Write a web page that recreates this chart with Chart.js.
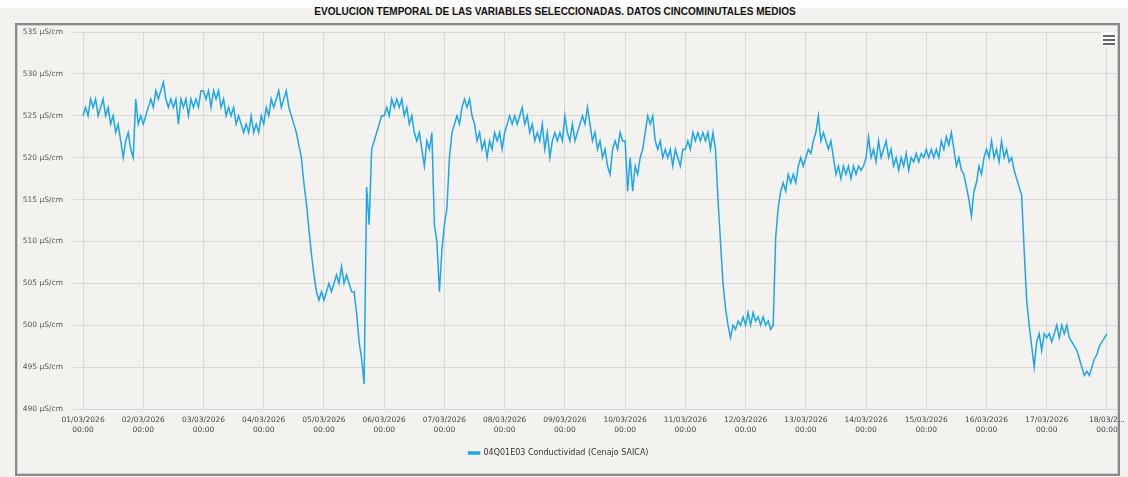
<!DOCTYPE html>
<html lang="es">
<head>
  <meta charset="UTF-8" />
  <title>Evolucion temporal - Conductividad</title>
  <script src="https://cdn.jsdelivr.net/npm/chart.js"></script>
  <style>
    html, body { margin: 0; padding: 0; }
    body { width: 1128px; height: 477px; background: #f3f2ef; position: relative; overflow: hidden; }
    #topStrip { position: absolute; left: 0; top: 0; width: 1128px; height: 8px; background: #fff; }
    #title { position: absolute; left: 0; top: 6px; width: 1110px; text-align: center;
             font: bold 10px 'Liberation Sans', Arial, sans-serif; color: #111; }
    #frame { position: absolute; left: 15px; top: 23px; width: 1105px; height: 453px;
             box-sizing: border-box; border: 2px solid #8a8a8a; box-shadow: inset 0 0 0 1px #cfcfcf; }
    #wrap { position: absolute; left: 0; top: 0; width: 1128px; height: 477px; }
    #menu { position: absolute; left: 1101px; top: 32px; width: 16px; height: 14px; background: #f8f8f8; }
    #menu span { position: absolute; left: 2px; width: 12px; height: 2px; background: #666; }
  </style>
</head>
<body>
  <div id="topStrip"></div>
  <div id="title">EVOLUCION TEMPORAL DE LAS VARIABLES SELECCIONADAS. DATOS CINCOMINUTALES MEDIOS</div>
  <div id="frame"></div>
  <div id="wrap"><canvas id="chart" width="1128" height="477"></canvas></div>
  <div id="menu"><span style="top:3px"></span><span style="top:7px"></span><span style="top:11px"></span></div>

  <script>
    // x ticks: one per day at 00:00
    const dayLabels = ['01/03/2026', '02/03/2026', '03/03/2026', '04/03/2026', '05/03/2026', '06/03/2026',
      '07/03/2026', '08/03/2026', '09/03/2026', '10/03/2026', '11/03/2026', '12/03/2026', '13/03/2026',
      '14/03/2026', '15/03/2026', '16/03/2026', '17/03/2026', '18/03/2...'];
    const tickTime = '00:00';
    const seriesName = '04Q01E03 Conductividad (Cenajo SAICA)';
    const yMin = 490, yMax = 535, yStep = 5;
    const unit = 'µS/cm';

    // hourly values (µS/cm), one line per day
    const conductividad = [
      525, 526, 525, 527, 526, 527, 525, 526, 527, 525, 526, 524, 525, 523, 524, 522, 520, 522, 523, 521, 520, 527, 524, 525,
      524, 525, 526, 527, 526, 528, 527, 528, 529, 527, 526, 527, 526, 527, 524, 527, 526, 527, 525, 527, 526, 527, 526, 528,
      528, 527, 528, 526, 528, 527, 528, 526, 527, 525, 526, 525, 526, 524, 525, 524, 523, 524, 523, 525, 523, 524, 523, 525,
      524, 526, 525, 527, 526, 527, 528, 526, 527, 528, 526, 525, 524, 523, 521.5, 520, 517, 514.5, 511.5, 508.5, 506, 504, 503, 504,
      503, 504, 505, 504, 505, 506, 505, 507, 505, 506, 505, 504, 504, 501.5, 498, 496, 493, 516.5, 512, 521, 522, 523, 524, 525,
      525, 526, 525, 527, 526, 527, 526, 527, 525, 526, 524, 525, 523, 522, 523, 521, 519, 522, 521, 523, 512, 510, 504, 509,
      512, 514, 520, 523, 524, 525, 524, 526, 527, 526, 527, 525, 524, 522, 523, 521, 522, 520, 522, 521, 523, 522, 523, 521,
      523, 524, 525, 524, 525, 524, 525, 526, 524, 525, 523, 524, 522, 523, 522, 524, 521, 523, 520, 522, 523, 522, 523, 522,
      525, 523, 522, 524, 522, 523, 524, 525, 524, 526, 524, 522, 523, 521, 522, 520, 521, 519, 518, 521, 522, 521, 523, 522,
      522, 516, 520, 516, 519, 518, 520, 521, 523, 525, 524, 525, 522, 521, 522, 520, 521, 520, 521, 519, 521, 520, 519, 521,
      521, 522, 521, 523, 522, 523, 522, 523, 522, 523, 521, 523, 521, 515, 510, 505, 502, 500, 498.5, 500, 499.5, 500.5, 500, 501,
      500, 501.5, 500, 501.5, 500.5, 501, 500, 501, 500, 500.5, 499.5, 500, 510.5, 514, 516, 517, 516, 518, 517, 518, 517, 519, 520, 519,
      520, 521, 520.5, 522, 523, 525, 522, 523, 522, 521, 522, 520, 518, 519, 517.5, 519, 518, 519, 517.5, 519, 518, 519, 518.5, 519,
      520, 522.5, 520, 521, 519.5, 522, 520, 521, 522, 520, 521, 519, 520, 518.5, 520, 519, 520.5, 518.5, 520, 519.5, 520.5, 519.5, 520.5, 520,
      521, 520, 521, 520, 521, 520, 522, 521, 522.5, 521.5, 523, 521, 519, 520, 518.5, 518, 516.5, 515, 513, 516, 517, 519, 518, 520,
      521, 520, 522, 520, 521, 519.5, 522, 520, 521, 519.5, 520, 518.5, 517.5, 516.5, 515.5, 509, 503, 500, 497.5, 495, 498, 499, 497, 499,
      498.5, 499, 498, 499, 500, 498.5, 500, 499, 500, 498.5, 498, 497.5, 497, 496, 495, 494, 494.5, 494, 495, 496, 496.5, 497.5, 498, 498.5,
      499
    ];

    const points = conductividad.map((v, i) => ({ x: i, y: v }));

    const ctx = document.getElementById('chart').getContext('2d');
    const chart = new Chart(ctx, {
      type: 'line',
      data: {
        datasets: [{
          label: seriesName,
          data: points,
          borderColor: '#1ea6e8',
          backgroundColor: '#1ea6e8',
          borderWidth: 1.5,
          pointRadius: 0,
          tension: 0
        }]
      },
      options: {
        responsive: false,
        animation: false,
        layout: { padding: { top: 32, right: 11, bottom: 10, left: 0 } },
        plugins: {
          tooltip: { enabled: false },
          title: { display: false },
          legend: {
            position: 'bottom',
            labels: {
              boxWidth: 11,
              boxHeight: 2,
              padding: 10,
              color: '#333',
              font: { family: 'DejaVu Sans', size: 8 }
            }
          }
        },
        scales: {
          x: {
            type: 'linear',
            min: -4,
            max: dayLabels.length * 24 - 20,
            afterBuildTicks: s => { s.ticks = dayLabels.map((_, i) => ({ value: i * 24 })); },
            afterFit: s => { s.height = 30; s.paddingLeft = 0; s.paddingRight = 0; },
            grid: { color: '#d8d8d8', drawTicks: false },
            border: { color: '#ccd6eb' },
            ticks: {
              autoSkip: false,
              maxRotation: 0,
              padding: 6,
              color: '#444',
              font: { family: 'DejaVu Sans', size: 7.5, lineHeight: 1.3 },
              callback: (v, i) => [dayLabels[i], tickTime]
            }
          },
          y: {
            min: yMin,
            max: yMax,
            afterFit: s => { s.width = 73; },
            grid: { color: '#d8d8d8', drawTicks: false },
            border: { display: false },
            ticks: {
              stepSize: yStep,
              padding: 10,
              color: '#555',
              font: { family: 'DejaVu Sans', size: 7.5 },
              callback: v => v + ' ' + unit
            }
          }
        }
      }
    });
  </script>
</body>
</html>
